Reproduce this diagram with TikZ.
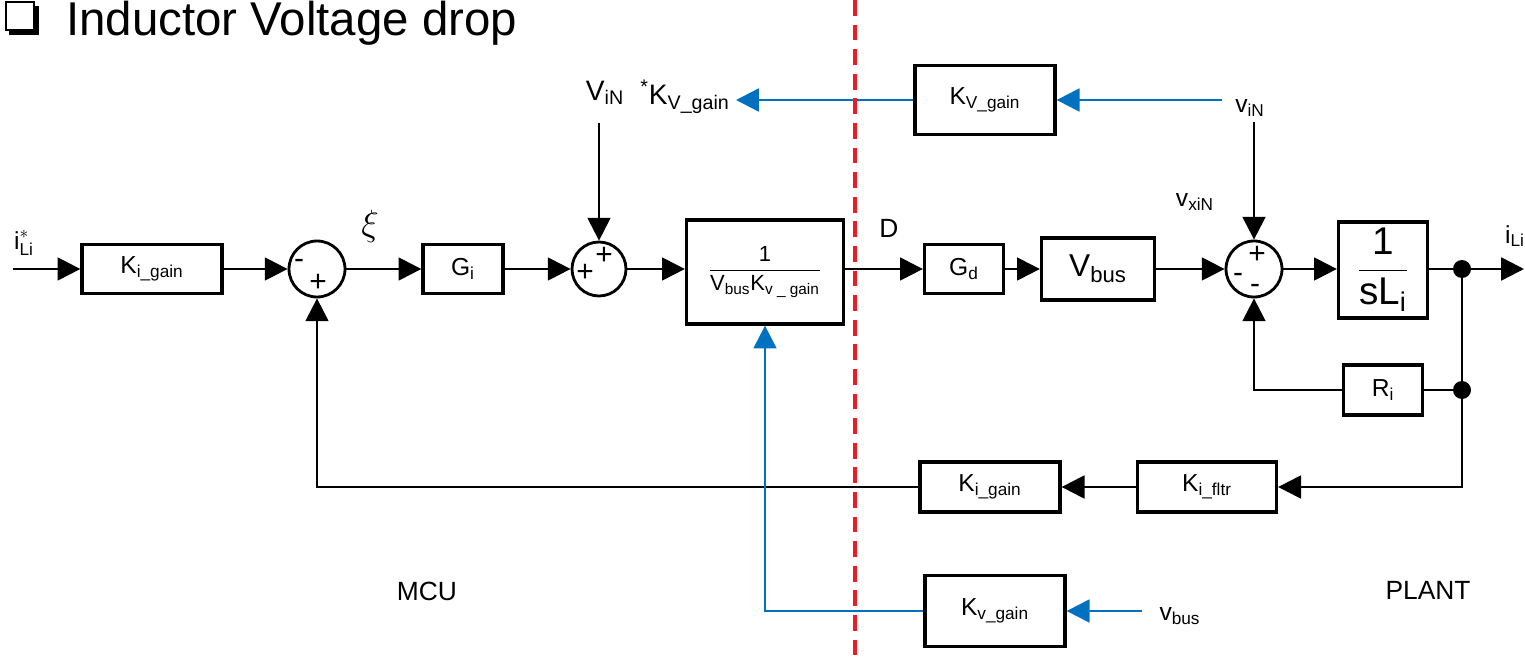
\documentclass[tikz,border=0pt]{standalone}
\usepackage{amsmath}
\usepackage{fontspec}
\setmainfont{Liberation Sans}
\usetikzlibrary{arrows.meta,positioning}
\definecolor{ctrlblue}{RGB}{0,112,192}
\definecolor{borderred}{RGB}{237,28,36}

\begin{document}
\begin{tikzpicture}[x=0.02cm,y=-0.02cm,
    font=\fontsize{14}{16}\selectfont,
    blk/.style={draw,line width=1.9pt,inner sep=0pt},
    sumnode/.style={draw,circle,line width=1.6pt,minimum size=1.12cm,inner sep=0pt},
    dotnode/.style={circle,fill,minimum size=0.36cm,inner sep=0pt},
    sig/.style={line width=1.4pt,-{Triangle[length=13pt,width=13pt]}},
    wire/.style={line width=1.4pt},
    sgn/.style={font=\fontsize{17}{17}\selectfont,inner sep=0pt}]
    \useasboundingbox (0,0) rectangle (1525,662);

    % Title
    \fill (9,6) rectangle (39,35);
    \filldraw[fill=white,line width=0.9pt] (6,2) rectangle (34,30);
    \node[anchor=base west,font=\fontsize{27}{30}\selectfont] (title) at (60,36) {Inductor Voltage drop};

    % Forward path
    \coordinate (iin) at (13,269);
    \node[blk,minimum width=2.8cm,minimum height=0.98cm] (kig1) at (152,269) {K\textsubscript{i\_gain}};
    \node[sumnode] (sum1) at (317,269) {};
    \node[blk,minimum width=1.6cm,minimum height=0.98cm] (gi) at (463,269) {G\textsubscript{i}};
    \node[sumnode,minimum size=1.08cm] (sum2) at (599,269) {};
    \node[blk,minimum width=3.14cm,minimum height=2.08cm,font=\fontsize{12.5}{14}\selectfont] (inv) at (765,272)
        {$\displaystyle\frac{\text{1}}{\text{V}_{\text{bus}}\text{K}_{\text{v \_ gain}}}$};
    \node[blk,minimum width=1.58cm,minimum height=0.98cm] (gd) at (964,269) {G\textsubscript{d}};
    \node[blk,minimum width=2.26cm,minimum height=1.24cm,font=\fontsize{18}{20}\selectfont] (vbus) at (1098,269) {V\textsubscript{bus}};
    \node[sumnode] (sum3) at (1254,269) {};
    \node[blk,minimum width=1.78cm,minimum height=1.92cm,font=\fontsize{22}{24}\selectfont] (invsl) at (1383,270)
        {$\displaystyle\frac{\text{1}}{\text{sL}_{\text{i}}}$};
    \node[dotnode] (dot1) at (1462,269) {};
    \coordinate (iout) at (1524,269);

    % Plant feedback
    \node[blk,minimum width=1.58cm,minimum height=1.0cm] (ri) at (1383,390) {R\textsubscript{i}};
    \node[dotnode] (dot2) at (1462,390) {};
    \node[blk,minimum width=2.78cm,minimum height=1.0cm] (kif) at (1207,487) {K\textsubscript{i\_fltr}};
    \node[blk,minimum width=2.8cm,minimum height=1.0cm] (kig2) at (990,487) {K\textsubscript{i\_gain}};

    % Voltage scaling
    \node[blk,minimum width=2.8cm,minimum height=1.38cm] (kvg) at (985,100) {K\textsubscript{V\_gain}};
    \node[blk,minimum width=2.8cm,minimum height=1.42cm] (kvb) at (995,611) {K\textsubscript{v\_gain}};

    % Labels
    \node (lil) at (24,243) {$\text{i}^{*}_{\text{Li}}$};
    \node[font=\fontsize{21}{21}\selectfont] (lxi) at (370,226) {$\xi$};
    \node[font=\fontsize{16}{18}\selectfont] (lvin) at (605,93) {V\textsubscript{iN}};
    \node[anchor=east,font=\fontsize{16}{18}\selectfont] (lkv) at (736,97) {\textsuperscript{*}K\textsubscript{V\_gain}};
    \node[font=\fontsize{15}{17}\selectfont] (ld) at (889,228) {D};
    \node (lvxin) at (1195,202) {v\textsubscript{xiN}};
    \node (lvin2) at (1250,108) {v\textsubscript{iN}};
    \node[anchor=west,inner sep=1pt] (lil2) at (1503,236) {i\textsubscript{Li}};
    \node[font=\fontsize{15}{17}\selectfont] (lmcu) at (427,591) {MCU};
    \node[font=\fontsize{15}{17}\selectfont] (lplant) at (1428,590) {PLANT};
    \node (lvbus) at (1180,616) {v\textsubscript{bus}};
    \coordinate (vin) at (599,123);
    \coordinate (vxin) at (1254,122);
    \coordinate (vinr) at (1222,100);
    \coordinate (vbusr) at (1142,611);

    % Signs
    \node[sgn] at (299,264) {-};
    \node[sgn] at (318,283) {+};
    \node[sgn] at (585,273) {+};
    \node[sgn] at (604,256) {+};
    \node[sgn] at (1238,278) {-};
    \node[sgn] at (1257,255) {+};
    \node[sgn] at (1255,289) {-};

    % Black connectors
    \draw[sig] (iin) -- (kig1.west);
    \draw[sig] (kig1.east) -- (sum1.west);
    \draw[sig] (sum1.east) -- (gi.west);
    \draw[sig] (gi.east) -- (sum2.west);
    \draw[sig] (vin) -- (sum2.north);
    \draw[sig] (sum2.east) -- (sum2.east -| inv.west);
    \draw[sig] (sum2.east -| inv.east) -- (gd.west);
    \draw[sig] (gd.east) -- (vbus.west);
    \draw[sig] (vbus.east) -- (sum3.west);
    \draw[sig] (vxin) -- (sum3.north);
    \draw[sig] (sum3.east) -- (invsl.west |- sum3.east);
    \draw[sig] (invsl.east |- dot1) -- (iout);
    \draw[wire] (dot1) -- (dot2);
    \draw[wire] (dot2) -- (ri.east);
    \draw[sig] (ri.west) -| (sum3.south);
    \draw[sig] (dot2) |- (kif.east);
    \draw[sig] (kif.west) -- (kig2.east);
    \draw[sig] (kig2.west) -| (sum1.south);

    % Blue connectors
    \draw[sig,ctrlblue] (vinr) -- (kvg.east);
    \draw[sig,ctrlblue] (kvg.west) -- (lkv.east |- kvg.west);
    \draw[sig,ctrlblue] (vbusr) -- (kvb.east);
    \draw[sig,ctrlblue] (kvb.west) -| (inv.south);

    % MCU / plant border
    \draw[borderred,line width=1.8pt,dash pattern=on 9pt off 5pt] (855,0) -- (855,662);
\end{tikzpicture}
\end{document}
